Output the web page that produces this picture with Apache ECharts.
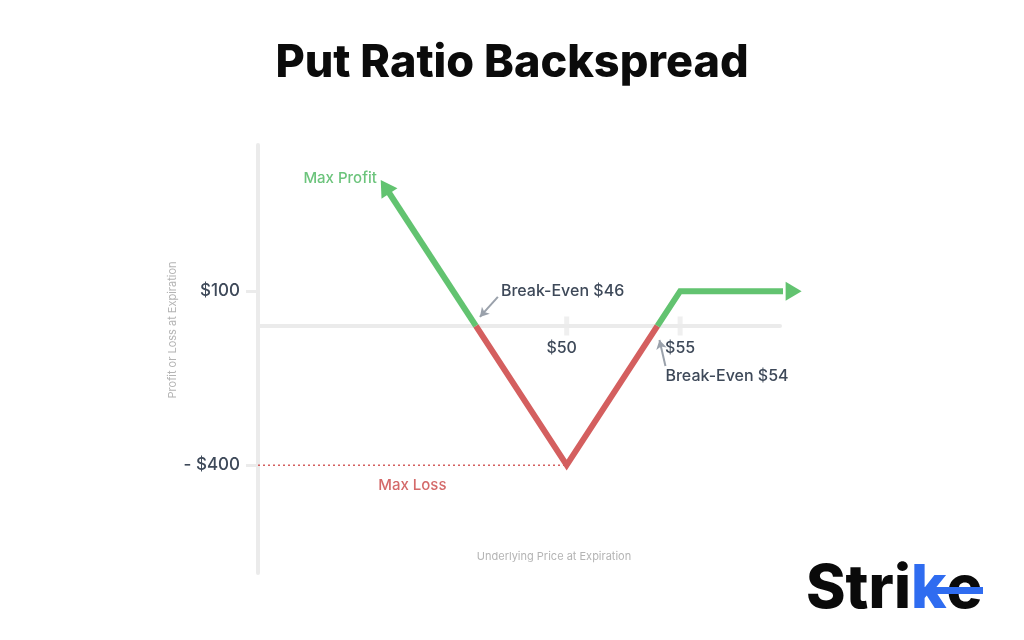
<!DOCTYPE html>
<html><head><meta charset="utf-8">
<script src="https://cdn.jsdelivr.net/npm/echarts@6/dist/echarts.min.js"></script>
<style>html,body{margin:0;padding:0;background:#fff}#c{width:1024px;height:640px}</style>
</head><body><div id="c"></div>
<script>
// ---- data ----
const chartTitle = 'Put Ratio Backspread';
const xAxisTitle = 'Underlying Price at Expiration';
const yAxisTitle = 'Profit or Loss at Expiration';
const xTickValues = [50, 55];
const xTickLabels = ['$50', '$55'];
const yTickValues = [100, -400];
const yTickLabels = ['$100', '- $400'];
const profitLeft = [[42, 400], [46, 0]];          // price, P/L (green, arrow at start)
const lossSegment = [[46, 0], [50, -400], [54, 0]]; // red
const profitRight = [[54, 0], [55, 100], [60, 100]]; // green, arrow at end
const breakEvenLeft = [46, 0];
const breakEvenRight = [54, 0];
const maxLossPoint = [50, -400];
const breakEvenLabels = ['Break-Even $46', 'Break-Even $54'];
const maxProfitLabel = 'Max Profit';
const maxLossLabel = 'Max Loss';

const GREEN = '#62c370', RED = '#d45f5f', AXIS = '#ebebeb', TXT = '#3e4959';
const X_MIN = 36.4, X_MAX = 59.4, Y_MIN = -710, Y_MAX = 520;
const GRID = {left: 258, right: 244, top: 145, bottom: 67};
const gridH = 640 - GRID.top - GRID.bottom;
const zeroFromBottom = gridH * (0 - Y_MIN) / (Y_MAX - Y_MIN); // lift x axis onto the zero line

const chart = echarts.init(document.getElementById('c'), null, {renderer: 'canvas'});

function lineSeries(data, color, z) {
  return {
    type: 'line', data: data, symbol: 'none', clip: false, z: z,
    lineStyle: {color: color, width: 6, cap: 'butt', join: 'miter'},
    itemStyle: {color: color, borderWidth: 0},
    emphasis: {disabled: true}, silent: true
  };
}

const option = {
  animation: false,
  backgroundColor: '#ffffff',
  title: {
    text: chartTitle, left: 'center', top: 36,
    textStyle: {fontFamily: 'Inter', fontSize: 45, fontWeight: 800, color: '#0b0b0b'}
  },
  grid: GRID,
  xAxis: {
    type: 'value', min: X_MIN, max: X_MAX,
    offset: -zeroFromBottom,
    axisLine: {show: true, onZero: false, lineStyle: {color: AXIS, width: 4}},
    axisTick: {show: false},
    splitLine: {show: false},
    axisLabel: {
      customValues: xTickValues, margin: 14,
      formatter: v => (v === xTickValues[0] ? '{s|' : '{c|') + xTickLabels[xTickValues.indexOf(v)] + '}',
      rich: {
        s: {fontFamily: 'Inter', fontSize: 16, fontWeight: 500, color: TXT, padding: [0, 10, 0, 0]},
        c: {fontFamily: 'Inter', fontSize: 16, fontWeight: 500, color: TXT}
      }
    }
  },
  yAxis: {
    type: 'value', min: Y_MIN, max: Y_MAX,
    axisLine: {show: true, lineStyle: {color: AXIS, width: 4}},
    axisTick: {show: true, customValues: yTickValues, length: 12, lineStyle: {color: AXIS, width: 3}},
    splitLine: {show: false},
    axisLabel: {
      customValues: yTickValues, margin: 18,
      formatter: v => yTickLabels[yTickValues.indexOf(v)],
      fontFamily: 'Inter', fontSize: 17, fontWeight: 500, color: TXT
    }
  },
  series: [
    {
      type: 'scatter', data: xTickValues.map(v => [v, 0]), symbol: 'rect', symbolSize: [5, 19],
      itemStyle: {color: AXIS}, z: 1, silent: true, emphasis: {disabled: true}
    },
    {
      type: 'line', data: [[X_MIN, maxLossPoint[1]], maxLossPoint], symbol: 'none', z: 2,
      lineStyle: {color: RED, width: 1.5, type: [2, 3]}, silent: true
    },
    lineSeries(profitLeft, GREEN, 4),
    lineSeries(lossSegment, RED, 3),
    lineSeries(profitRight, GREEN, 4)
  ]
};
chart.setOption(option);

// place arrowheads & annotations relative to the chart's own scales
const px = p => chart.convertToPixel({gridIndex: 0}, p);
const fromPx = p => chart.convertFromPixel({gridIndex: 0}, p);

function angleDeg(a, b) { // rotation (ccw) of an up-pointing triangle so it points from a to b
  const pa = px(a), pb = px(b);
  const dx = pb[0] - pa[0], dy = pa[1] - pb[1];
  return Math.atan2(dx, dy) * -180 / Math.PI;
}
const arrow = (rot) => ({symbol: 'triangle', symbolSize: [19, 16], symbolRotate: rot});

const leftData = profitLeft.map((p, i) => i === 0 ? Object.assign({value: p}, arrow(angleDeg(profitLeft[1], profitLeft[0]))) : {value: p});
const n = profitRight.length;
const rightData = profitRight.map((p, i) => i === n - 1 ? Object.assign({value: p}, arrow(angleDeg(profitRight[n - 2], profitRight[n - 1]))) : {value: p});

const pBL = px(breakEvenLeft), pBR = px(breakEvenRight), pLoss = px(maxLossPoint), pTip = px(profitLeft[0]);
const yAxisPx = px([X_MIN, 0])[0];

const ptrL = [fromPx([pBL[0] + 22, pBL[1] - 29]), fromPx([pBL[0] + 4, pBL[1] - 9])];
const ptrR = [fromPx([pBR[0] + 8, pBR[1] + 40]), fromPx([pBR[0] + 2, pBR[1] + 14])];

chart.setOption({
  series: [
    {}, {},
    {data: leftData},
    {},
    {
      data: rightData,
      markLine: {
        silent: true, symbol: ['none', 'arrow'], symbolSize: [8, 9],
        lineStyle: {color: '#9aa1ab', width: 2, type: 'solid'}, label: {show: false},
        data: [
          [{coord: ptrL[0]}, {coord: ptrL[1]}],
          [{coord: ptrR[0]}, {coord: ptrR[1]}]
        ]
      }
    }
  ],
  graphic: [
    {type: 'text', x: pBL[0] + 25, y: pBL[1] - 35, style: {text: breakEvenLabels[0], fill: TXT, font: '500 16px Inter', textAlign: 'left', textVerticalAlign: 'middle'}},
    {type: 'text', x: pBR[0] + 8, y: pBR[1] + 50, style: {text: breakEvenLabels[1], fill: TXT, font: '500 16px Inter', textAlign: 'left', textVerticalAlign: 'middle'}},
    {type: 'text', x: pTip[0] - 45, y: pTip[1] - 8, style: {text: maxProfitLabel, fill: '#6cc47c', font: '500 15px Inter', textAlign: 'center', textVerticalAlign: 'middle'}},
    {type: 'text', x: (yAxisPx + pLoss[0]) / 2, y: pLoss[1] + 20, style: {text: maxLossLabel, fill: '#d46a6a', font: '500 15px Inter', textAlign: 'center', textVerticalAlign: 'middle'}},
    {type: 'text', x: 173, y: pBL[1] + 4, rotation: Math.PI / 2, style: {text: yAxisTitle, fill: '#b4b4b4', font: '11px Inter', textAlign: 'center', textVerticalAlign: 'middle'}},
    {type: 'text', x: 554, y: 557, style: {text: xAxisTitle, fill: '#b4b4b4', font: '11px Inter', textAlign: 'center', textVerticalAlign: 'middle'}},
    {type: 'text', x: 806, y: 590, style: {
      text: '{a|Stri}{b|k}{a|e}', textAlign: 'left', textVerticalAlign: 'middle',
      rich: {
        a: {font: '800 60px Inter', fill: '#0a0a0a'},
        b: {font: '800 60px Inter', fill: '#2f6cf0'}
      }
    }},
    {type: 'rect', shape: {x: 930, y: 587, width: 53, height: 7}, style: {fill: '#2f6cf0'}, z: 10}
  ]
});
</script>
</body></html>
